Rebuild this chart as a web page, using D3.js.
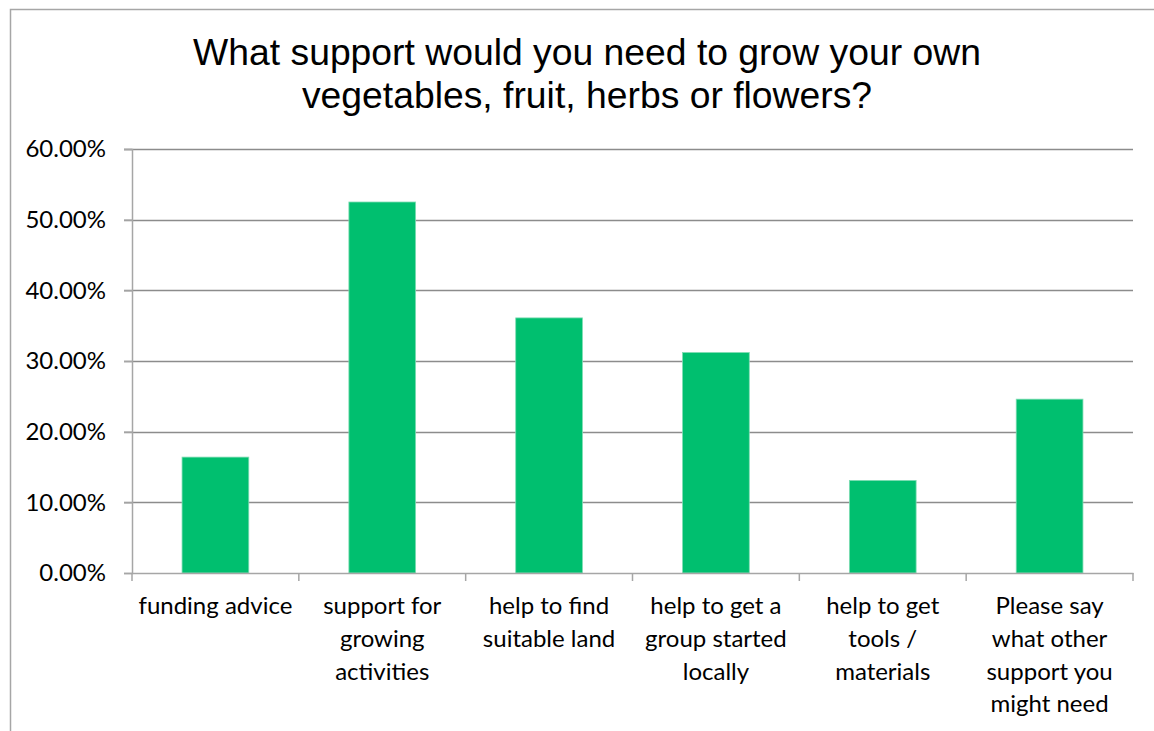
<html>
<head>
<script src="https://d3js.org/d3.v7.min.js"></script>
<style>
body { margin: 0; background: white; }
text { fill: black; }
</style>
</head>
<body>
<svg id="chart" width="1154" height="731"></svg>
<script>
// data
var categories = ["funding advice", "support for growing activities", "help to find suitable land",
                  "help to get a group started locally", "help to get tools / materials",
                  "Please say what other support you might need"];
var labelLines = [["funding advice"], ["support for", "growing", "activities"], ["help to find", "suitable land"],
                  ["help to get a", "group started", "locally"], ["help to get", "tools /", "materials"],
                  ["Please say", "what other", "support you", "might need"]];
var values = [0.164, 0.525, 0.361, 0.312, 0.131, 0.246];
var yTicks = [0, 0.1, 0.2, 0.3, 0.4, 0.5, 0.6];
var titleLines = ["What support would you need to grow your own", "vegetables, fruit, herbs or flowers?"];

var plotLeft = 132, plotRight = 1133, plotTop = 149, plotBottom = 573;

var svg = d3.select("#chart");

// chart area border
svg.append("rect")
  .attr("x", 10.5).attr("y", 9.5)
  .attr("width", 1160).attr("height", 740)
  .attr("fill", "white").attr("stroke", "#a6a6a6").attr("stroke-width", 1.5);

var x = d3.scaleBand().domain(categories).range([plotLeft, plotRight]).paddingInner(0).paddingOuter(0);
var y = d3.scaleLinear().domain([0, 0.6]).range([plotBottom, plotTop]);

// gridlines
svg.append("g").selectAll("line")
  .data(yTicks.filter(function(d) { return d > 0; }))
  .enter().append("line")
  .attr("x1", plotLeft - 8).attr("x2", plotRight)
  .attr("y1", function(d) { return Math.round(y(d)) + 0.5; })
  .attr("y2", function(d) { return Math.round(y(d)) + 0.5; })
  .attr("stroke", "#8c8c8c").attr("stroke-width", 1.5);

// bars
var bw = x.bandwidth() / 2.5;
svg.append("g").selectAll("rect")
  .data(values)
  .enter().append("rect")
  .attr("x", function(d, i) { return x(categories[i]) + (x.bandwidth() - bw) / 2; })
  .attr("y", function(d) { return y(d); })
  .attr("width", bw)
  .attr("height", function(d) { return plotBottom - y(d); })
  .attr("fill", "#00bf6f")
  .attr("stroke", "#7fdcb3").attr("stroke-width", 0.8);

// y axis
var yAxis = svg.append("g")
  .attr("transform", "translate(" + plotLeft + ",0)")
  .call(d3.axisLeft(y).tickValues(yTicks).tickSize(8).tickFormat(d3.format(".2%")));
yAxis.select(".domain").attr("stroke", "#a6a6a6").attr("stroke-width", 1.5);
yAxis.selectAll(".tick line").attr("stroke", "#a6a6a6").attr("stroke-width", 1.5);
yAxis.selectAll(".tick text")
  .attr("x", -26)
  .attr("font-family", "Lato, 'Noto Sans', sans-serif")
  .attr("font-size", "24px")
  .attr("fill", "black");

// x axis
var xAxis = svg.append("g")
  .attr("transform", "translate(0," + plotBottom + ")")
  .call(d3.axisBottom(x).tickSize(0).tickFormat(""));
xAxis.select(".domain").attr("stroke", "#a6a6a6").attr("stroke-width", 1.5);
xAxis.selectAll(".tick").remove();

// category separator ticks
var sepX = categories.map(function(c) { return x(c); }).concat([plotRight]);
xAxis.selectAll("line.sep")
  .data(sepX)
  .enter().append("line")
  .attr("class", "sep")
  .attr("x1", function(d) { return d; }).attr("x2", function(d) { return d; })
  .attr("y1", 0).attr("y2", 8)
  .attr("stroke", "#a6a6a6").attr("stroke-width", 1.5);

// category labels
var lab = svg.append("g").selectAll("text")
  .data(labelLines)
  .enter().append("text")
  .attr("text-anchor", "middle")
  .attr("font-family", "Lato, 'Noto Sans', sans-serif")
  .attr("font-size", "24px")
  .attr("fill", "black");
lab.selectAll("tspan")
  .data(function(d, i) { return d.map(function(s) { return { s: s, i: i }; }); })
  .enter().append("tspan")
  .attr("x", function(d) { return x(categories[d.i]) + x.bandwidth() / 2; })
  .attr("y", function(d, j) { return 614 + j * 32.8; })
  .text(function(d) { return d.s; });

// title
svg.append("g").selectAll("text")
  .data(titleLines)
  .enter().append("text")
  .attr("x", 587)
  .attr("y", function(d, i) { return 65 + i * 43; })
  .attr("text-anchor", "middle")
  .attr("font-family", "'Liberation Sans', Arial, sans-serif")
  .attr("font-size", "37.3px")
  .attr("fill", "black")
  .text(function(d) { return d; });
</script>
</body>
</html>
